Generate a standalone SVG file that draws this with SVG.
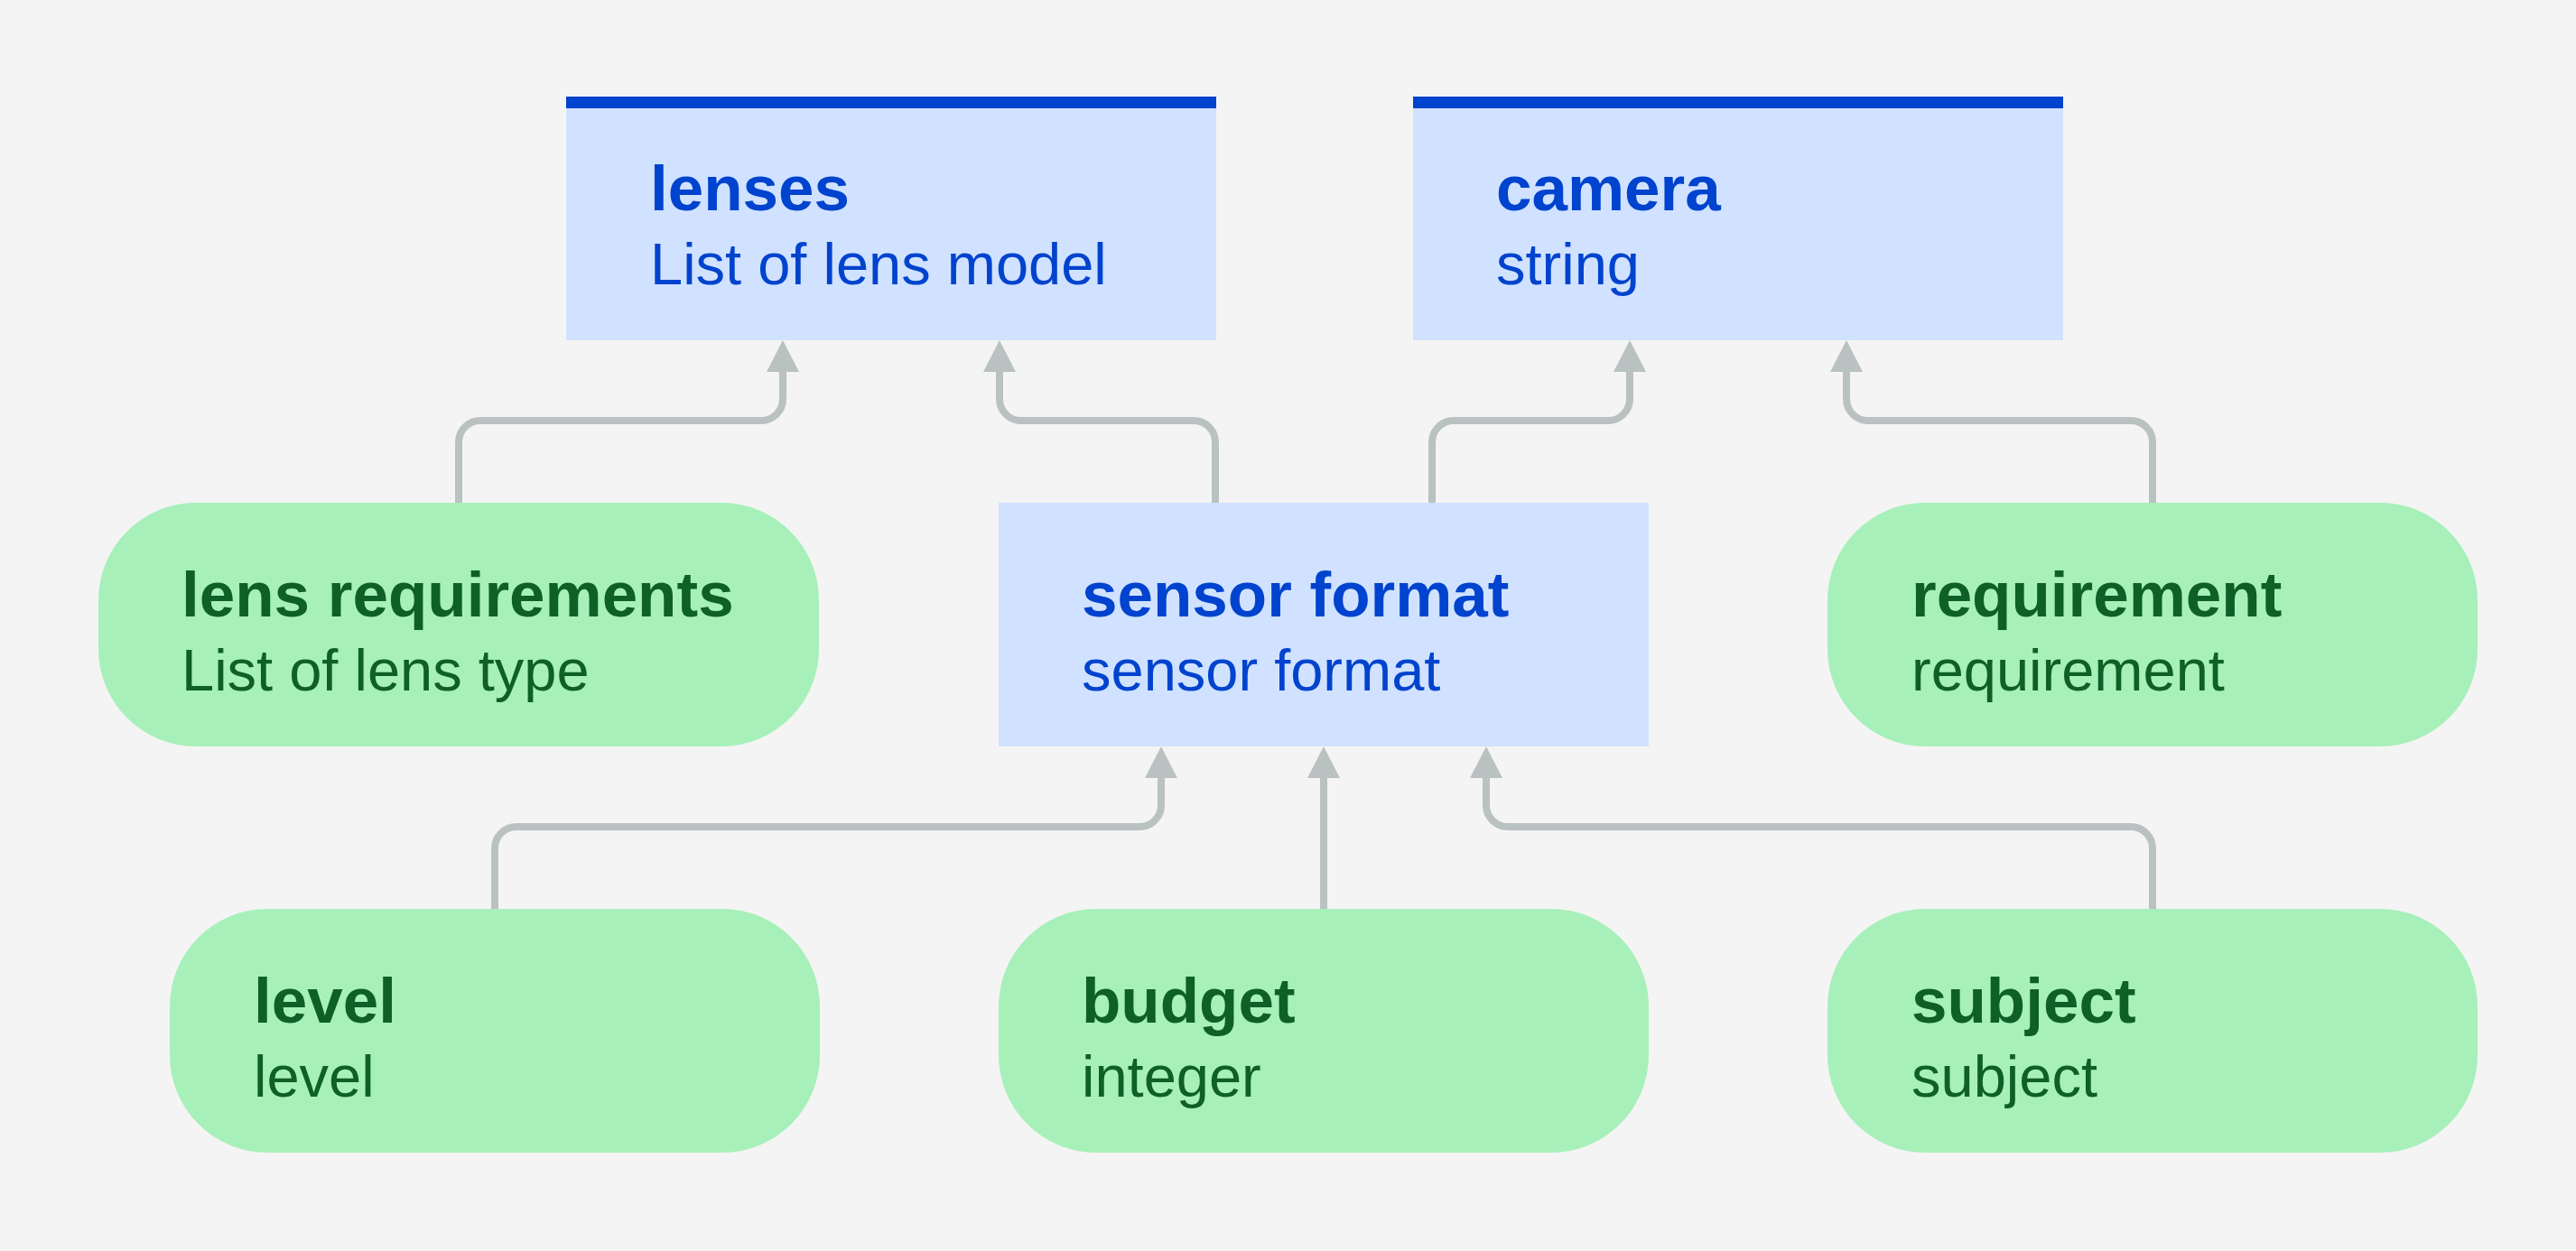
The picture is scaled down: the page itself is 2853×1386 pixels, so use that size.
<svg xmlns="http://www.w3.org/2000/svg" width="2853" height="1386" viewBox="0 0 2853 1386">
  <style>
    .bg { fill: #f4f4f4; }
    .entity { fill: #d0e2ff; }
    .bar { fill: #0043ce; }
    .input { fill: #a7f0ba; }
    .t { font-family: "Liberation Sans", Arial, sans-serif; }
    .h { font-size: 71px; font-weight: bold; }
    .s { font-size: 65px; }
    .blue { fill: #0043ce; }
    .green { fill: #0e6027; }
    .conn { fill: none; stroke: #b9c1c1; stroke-width: 8; marker-end: url(#arrow); }
  </style>
  <defs>
    <marker id="arrow" markerUnits="userSpaceOnUse" markerWidth="36" markerHeight="36" viewBox="0 0 36 36" refX="0" refY="18" orient="auto" overflow="visible">
      <path d="M0,0 L35,18 L0,36 Z" fill="#b9c1c1"/>
    </marker>
  </defs>
  <rect class="bg" x="0" y="0" width="2853" height="1386"/>

  <g id="connectors">
    <path class="conn" d="M508,557 V490 A24,24 0 0 1 532,466 H843 A24,24 0 0 0 867,442 V412"/>
    <path class="conn" d="M1346,557 V490 A24,24 0 0 0 1322,466 H1131 A24,24 0 0 1 1107,442 V412"/>
    <path class="conn" d="M1586,557 V490 A24,24 0 0 1 1610,466 H1781 A24,24 0 0 0 1805,442 V412"/>
    <path class="conn" d="M2384,557 V490 A24,24 0 0 0 2360,466 H2069 A24,24 0 0 1 2045,442 V412"/>
    <path class="conn" d="M548,1007 V940 A24,24 0 0 1 572,916 H1262 A24,24 0 0 0 1286,892 V862"/>
    <path class="conn" d="M1466,1007 V862"/>
    <path class="conn" d="M2384,1007 V940 A24,24 0 0 0 2360,916 H1670 A24,24 0 0 1 1646,892 V862"/>
  </g>

  <g id="lenses">
    <rect class="entity" x="627" y="107" width="720" height="270"/>
    <rect class="bar" x="627" y="107" width="720" height="13"/>
    <text class="t h blue" x="720" y="233">lenses</text>
    <text class="t s blue" x="720" y="315">List of lens model</text>
  </g>

  <g id="camera">
    <rect class="entity" x="1565" y="107" width="720" height="270"/>
    <rect class="bar" x="1565" y="107" width="720" height="13"/>
    <text class="t h blue" x="1657" y="233">camera</text>
    <text class="t s blue" x="1657" y="315">string</text>
  </g>

  <g id="lens-requirements">
    <rect class="input" x="109" y="557" width="798" height="270" rx="108" ry="108"/>
    <text class="t h green" x="201" y="683">lens requirements</text>
    <text class="t s green" x="201" y="765">List of lens type</text>
  </g>

  <g id="sensor-format">
    <rect class="entity" x="1106" y="557" width="720" height="270"/>
    <text class="t h blue" x="1198" y="683">sensor format</text>
    <text class="t s blue" x="1198" y="765">sensor format</text>
  </g>

  <g id="requirement">
    <rect class="input" x="2024" y="557" width="720" height="270" rx="108" ry="108"/>
    <text class="t h green" x="2117" y="683">requirement</text>
    <text class="t s green" x="2117" y="765">requirement</text>
  </g>

  <g id="level">
    <rect class="input" x="188" y="1007" width="720" height="270" rx="108" ry="108"/>
    <text class="t h green" x="281" y="1133">level</text>
    <text class="t s green" x="281" y="1215">level</text>
  </g>

  <g id="budget">
    <rect class="input" x="1106" y="1007" width="720" height="270" rx="108" ry="108"/>
    <text class="t h green" x="1198" y="1133">budget</text>
    <text class="t s green" x="1198" y="1215">integer</text>
  </g>

  <g id="subject">
    <rect class="input" x="2024" y="1007" width="720" height="270" rx="108" ry="108"/>
    <text class="t h green" x="2117" y="1133">subject</text>
    <text class="t s green" x="2117" y="1215">subject</text>
  </g>
</svg>
